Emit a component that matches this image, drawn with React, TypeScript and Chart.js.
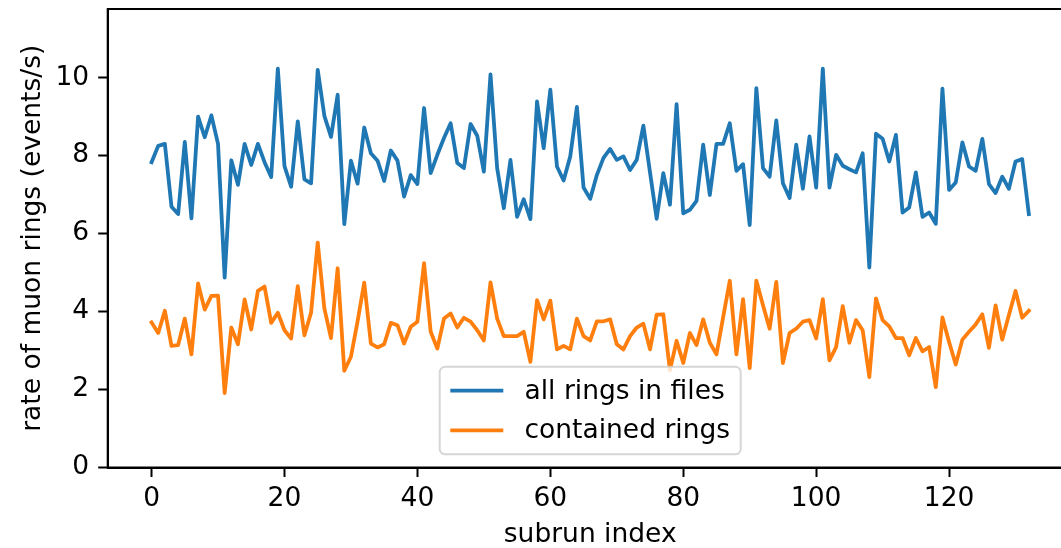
import React, { useEffect, useRef } from "react";
import { Chart, registerables } from "chart.js";

Chart.register(...registerables);

// ---- data ----
const allRings: number[] = [
  7.83, 8.25, 8.3, 6.69, 6.5, 8.35, 6.39, 9.0, 8.47, 9.03, 8.3, 4.87, 7.88, 7.25, 8.3, 7.76, 8.3, 7.83, 7.45, 10.23,
  7.73, 7.2, 8.88, 7.39, 7.29, 10.2, 9.02, 8.48, 9.56, 6.24, 7.87, 7.28, 8.72, 8.06, 7.87,
  7.35, 8.13, 7.87, 6.95, 7.5, 7.27, 9.22, 7.55, 8.02, 8.45, 8.83, 7.81, 7.68, 8.81, 8.51, 7.59, 10.08, 7.68, 6.65,
  7.89, 6.43, 6.88, 6.37, 9.39, 8.19, 9.69, 7.72, 7.36, 7.98, 9.25, 7.18, 6.89, 7.5, 7.94, 8.17,
  7.89, 7.98, 7.63, 7.89, 8.77, 7.57, 6.38, 7.55, 6.74, 9.32, 6.52, 6.61, 6.84, 8.28, 6.99, 8.3, 8.3, 8.83, 7.61,
  7.78, 6.22, 9.73, 7.68, 7.46, 8.9, 7.29, 6.91, 8.28, 7.15, 8.49, 7.18, 10.23, 7.18, 8.02, 7.74,
  7.65, 7.57, 8.06, 5.13, 8.56, 8.43, 7.85, 8.53, 6.54, 6.67, 7.57, 6.43, 6.54, 6.25, 9.72, 7.12, 7.31, 8.34, 7.72,
  7.61, 8.43, 7.27, 7.04, 7.46, 7.15, 7.85, 7.91, 6.5,
];

const containedRings: number[] = [
  3.72, 3.45, 4.02, 3.12, 3.14, 3.82, 2.9, 4.72, 4.05, 4.4, 4.41, 1.91, 3.59, 3.16, 4.31, 3.54, 4.53, 4.64, 3.71, 3.97,
  3.52, 3.31, 4.65, 3.39, 3.97, 5.77, 4.08, 3.32, 5.11, 2.48, 2.84, 3.75, 4.74, 3.18, 3.08,
  3.16, 3.71, 3.65, 3.18, 3.61, 3.74, 5.24, 3.48, 3.05, 3.82, 3.95, 3.59, 3.84, 3.74, 3.52, 3.26, 4.75, 3.82, 3.37,
  3.37, 3.37, 3.48, 2.71, 4.29, 3.8, 4.28, 3.03, 3.12, 3.03, 3.82, 3.37, 3.26, 3.75, 3.75, 3.8,
  3.16, 3.03, 3.37, 3.59, 3.69, 3.03, 3.92, 3.93, 2.49, 3.25, 2.68, 3.45, 3.14, 3.8, 3.2, 2.9, 3.85, 4.79, 2.9,
  4.32, 2.55, 4.79, 4.16, 3.56, 4.76, 2.68, 3.45, 3.56, 3.74, 3.78, 3.31, 4.32, 2.75, 3.09, 4.14,
  3.2, 3.78, 3.52, 2.32, 4.34, 3.78, 3.62, 3.32, 3.32, 2.88, 3.32, 2.98, 3.09, 2.06, 3.85, 3.22, 2.64, 3.28, 3.48,
  3.67, 3.93, 3.07, 4.16, 3.28, 3.91, 4.53, 3.84, 4.02,
];

const seriesLabels: string[] = ["all rings in files", "contained rings"];
const xTickValues: number[] = [0, 20, 40, 60, 80, 100, 120];
const yTickValues: number[] = [0, 2, 4, 6, 8, 10];
const xAxisTitle = "subrun index";
const yAxisTitle = "rate of muon rings (events/s)";

// ---- styling ----
const FONT_FAMILY = '"DejaVu Sans", sans-serif';
const FS = 26.5;
const BLUE = "#1f77b4";
const ORANGE = "#ff7f0e";

const framePlugin = {
  id: "frame",
  afterDatasetsDraw(chart: any) {
    const { ctx, chartArea: a } = chart;
    ctx.save();
    ctx.strokeStyle = "#000";
    ctx.lineWidth = 2;
    ctx.strokeRect(a.left, a.top, a.right - a.left, a.bottom - a.top);
    ctx.restore();
  },
};

const legendPlugin = {
  id: "mplLegend",
  afterDraw(chart: any) {
    const { ctx, chartArea: a } = chart;
    ctx.save();
    ctx.font = `${FS}px ${FONT_FAMILY}`;
    const items = chart.data.datasets.map((d: any) => ({ label: d.label, color: d.borderColor }));
    const textW = Math.max(...items.map((it: any) => ctx.measureText(it.label).width));
    const pad = 0.4 * FS, handle = 2 * FS, htp = 0.8 * FS, rowH = FS, lsp = 0.5 * FS, bap = 0.5 * FS;
    const w = 2 * pad + handle + htp + textW;
    const h = 2 * pad + items.length * rowH + (items.length - 1) * lsp;
    const x0 = (a.left + a.right) / 2 - w / 2;
    const y0 = a.bottom - bap - h;
    const r = 0.2 * FS;
    ctx.beginPath();
    ctx.moveTo(x0 + r, y0);
    ctx.arcTo(x0 + w, y0, x0 + w, y0 + h, r);
    ctx.arcTo(x0 + w, y0 + h, x0, y0 + h, r);
    ctx.arcTo(x0, y0 + h, x0, y0, r);
    ctx.arcTo(x0, y0, x0 + w, y0, r);
    ctx.closePath();
    ctx.fillStyle = "rgba(255,255,255,0.8)";
    ctx.fill();
    ctx.strokeStyle = "rgba(204,204,204,0.8)";
    ctx.lineWidth = 2;
    ctx.stroke();
    items.forEach((it: any, i: number) => {
      const cy = y0 + pad + rowH / 2 + i * (rowH + lsp);
      ctx.beginPath();
      ctx.moveTo(x0 + pad, cy);
      ctx.lineTo(x0 + pad + handle, cy);
      ctx.strokeStyle = it.color;
      ctx.lineWidth = 3.8;
      ctx.lineCap = "butt";
      ctx.stroke();
      ctx.fillStyle = "#000";
      ctx.textBaseline = "middle";
      ctx.textAlign = "left";
      ctx.fillText(it.label, x0 + pad + handle + htp, cy + 1);
    });
    ctx.restore();
  },
};

export default function App() {
  const ref = useRef<HTMLCanvasElement | null>(null);

  useEffect(() => {
    if (!ref.current) return;
    const font = { family: FONT_FAMILY, size: FS };
    const chart = new Chart(ref.current, {
      type: "line",
      data: {
        datasets: [
          {
            label: seriesLabels[0],
            data: allRings.map((v, i) => ({ x: i, y: v })),
            borderColor: BLUE,
            backgroundColor: BLUE,
            borderWidth: 3.8,
            pointRadius: 0,
            tension: 0,
            fill: false,
            borderJoinStyle: "round",
            borderCapStyle: "square",
            order: 1,
          },
          {
            label: seriesLabels[1],
            data: containedRings.map((v, i) => ({ x: i, y: v })),
            borderColor: ORANGE,
            backgroundColor: ORANGE,
            borderWidth: 3.8,
            pointRadius: 0,
            tension: 0,
            fill: false,
            borderJoinStyle: "round",
            borderCapStyle: "square",
            order: 0,
          },
        ],
      },
      options: {
        animation: false,
        responsive: false,
        devicePixelRatio: 1,
        layout: { padding: { left: 0, top: 9, right: 17.3, bottom: 0 } },
        plugins: {
          legend: { display: false },
          tooltip: { enabled: false },
        },
        scales: {
          x: {
            type: "linear",
            min: -6.6,
            max: 138.6,
            afterBuildTicks: (s: any) => {
              s.ticks = xTickValues.map((v) => ({ value: v }));
            },
            afterFit: (s: any) => {
              s.height = 80.5;
              s.paddingLeft = 0;
              s.paddingRight = 0;
            },
            ticks: {
              font,
              color: "#000",
              padding: 6,
              autoSkip: false,
              maxRotation: 0,
              minRotation: 0,
              callback: (v: any) => String(v),
            },
            grid: {
              display: true,
              drawOnChartArea: false,
              drawTicks: true,
              tickLength: 9.5,
              tickWidth: 2,
              tickColor: "#000",
              color: "#000",
            },
            border: { display: true, color: "#000", width: 2 },
            title: {
              display: true,
              text: xAxisTitle,
              font: { family: FONT_FAMILY, size: FS, lineHeight: 1 },
              color: "#000",
              padding: { top: 0, bottom: 0 },
            },
          },
          y: {
            type: "linear",
            min: 0,
            max: 11.76,
            afterBuildTicks: (s: any) => {
              s.ticks = yTickValues.map((v) => ({ value: v }));
            },
            afterFit: (s: any) => {
              s.width = 107.7;
              s.paddingTop = 0;
              s.paddingBottom = 0;
            },
            ticks: {
              font,
              color: "#000",
              padding: 9,
              callback: (v: any) => String(v),
            },
            grid: {
              display: true,
              drawOnChartArea: false,
              drawTicks: true,
              tickLength: 9.5,
              tickWidth: 2,
              tickColor: "#000",
              color: "#000",
            },
            border: { display: true, color: "#000", width: 2 },
            title: {
              display: true,
              text: yAxisTitle,
              font: { family: FONT_FAMILY, size: FS, lineHeight: 1 },
              color: "#000",
              padding: { top: 20, bottom: 0 },
            },
          },
        },
      },
      plugins: [framePlugin, legendPlugin],
    } as any);
    return () => chart.destroy();
  }, []);

  return (
    <div
      style={{
        position: "fixed",
        left: 0,
        top: 0,
        width: 1061,
        height: 548,
        overflow: "hidden",
        background: "#fff",
      }}
    >
      <canvas ref={ref} width={1090} height={548} style={{ display: "block", width: 1090, height: 548 }} />
    </div>
  );
}
